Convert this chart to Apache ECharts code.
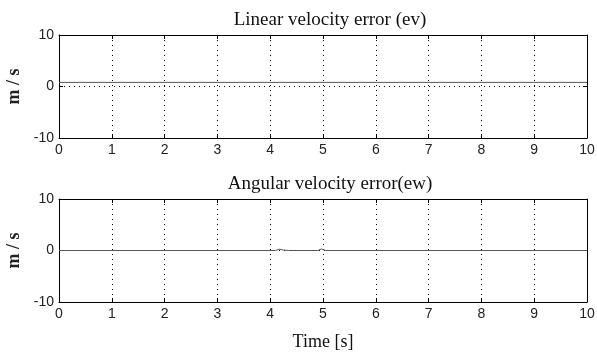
<!DOCTYPE html>
<html>
<head>
<meta charset="utf-8">
<script src="https://cdn.jsdelivr.net/npm/echarts@6/dist/echarts.min.js"></script>
<style>
  html, body { margin: 0; padding: 0; background: #fff; }
  #chart { width: 597px; height: 354px; }
</style>
</head>
<body>
<div id="chart"></div>
<script>
// Time axis ticks and limits
const xTicks = [0, 1, 2, 3, 4, 5, 6, 7, 8, 9, 10];
const yTicks = [-10, 0, 10];

// Linear velocity error ev (m/s) over time
const evTime = [0, 10];
const evValue = [0.8, 0.8];

// Angular velocity error ew over time: flat with two small blips
const ewTime = [0, 4.1, 4.17, 4.25, 4.35, 4.9, 4.97, 5.05, 10];
const ewValue = [0, 0, 0.25, 0.1, 0, 0, 0.3, 0, 0];

const titles = ['Linear velocity error (ev)', 'Angular velocity error(ew)'];
const yName = 'm / s';
const xName = 'Time [s]';

const tickFont = { fontFamily: 'Liberation Sans', fontSize: 14, color: '#222' };
const serif = 'Liberation Serif';

function pairs(xs, ys) { return xs.map((x, i) => [x, ys[i]]); }

const grids = [
  { left: 59, top: 35, width: 528, height: 103, outerBoundsMode: 'none', containLabel: false },
  { left: 59, top: 199, width: 528, height: 103, outerBoundsMode: 'none', containLabel: false }
];

const boxLine = { show: true, onZero: false, lineStyle: { color: '#000', width: 1 } };
const inTick = { show: true, inside: true, length: 4, lineStyle: { color: '#000' } };
const dotted = { show: true, lineStyle: { type: [1, 4], color: '#000', width: 1 } };

const xAxes = [], yAxes = [];
grids.forEach((g, gi) => {
  // bottom axis with labels and dotted vertical grid
  xAxes.push({
    type: 'value', gridIndex: gi, min: xTicks[0], max: xTicks[xTicks.length - 1], interval: 1,
    position: 'bottom',
    axisLine: boxLine, axisTick: inTick,
    axisLabel: Object.assign({ margin: 5 }, tickFont),
    splitLine: dotted,
    name: gi === 1 ? xName : '',
    nameLocation: 'middle', nameGap: 31,
    nameTextStyle: { fontFamily: serif, fontSize: 18, color: '#111' }
  });
  // top axis: ticks only
  xAxes.push({
    type: 'value', gridIndex: gi, min: xTicks[0], max: xTicks[xTicks.length - 1], interval: 1,
    position: 'top',
    axisLine: boxLine, axisTick: inTick,
    axisLabel: { show: false }, splitLine: { show: false }
  });
  yAxes.push({
    type: 'value', gridIndex: gi, min: yTicks[0], max: yTicks[yTicks.length - 1], interval: 10,
    position: 'left',
    axisLine: boxLine, axisTick: inTick,
    axisLabel: Object.assign({ margin: 5 }, tickFont),
    splitLine: dotted,
    name: yName, nameLocation: 'middle', nameGap: 29, nameRotate: 90,
    nameTextStyle: { fontFamily: serif, fontSize: 18, fontWeight: 'bold', color: '#222' }
  });
  yAxes.push({
    type: 'value', gridIndex: gi, min: yTicks[0], max: yTicks[yTicks.length - 1], interval: 10,
    position: 'right',
    axisLine: boxLine, axisTick: inTick,
    axisLabel: { show: false }, splitLine: { show: false }
  });
});

const chart = echarts.init(document.getElementById('chart'), null, { renderer: 'canvas' });
chart.setOption({
  animation: false,
  backgroundColor: '#fff',
  title: titles.map((t, i) => ({
    text: t, left: 325, textAlign: 'center', top: i === 0 ? 6 : 170,
    textStyle: { fontFamily: serif, fontSize: 19, fontWeight: 'normal', color: '#111' }
  })),
  grid: grids,
  xAxis: xAxes,
  yAxis: yAxes,
  series: [
    {
      type: 'line', xAxisIndex: 0, yAxisIndex: 0, data: pairs(evTime, evValue),
      showSymbol: false, lineStyle: { color: '#555', width: 1 }
    },
    {
      type: 'line', xAxisIndex: 2, yAxisIndex: 2, data: pairs(ewTime, ewValue),
      showSymbol: false, lineStyle: { color: '#555', width: 1 }
    }
  ]
});
</script>
</body>
</html>
